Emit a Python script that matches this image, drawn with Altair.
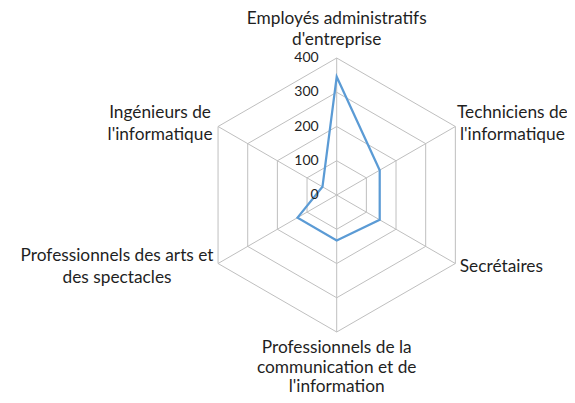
import altair as alt
import pandas as pd

# ---- data ----
categories = [
    "Employés administratifs\nd'entreprise",
    "Techniciens de\nl'informatique",
    "Secrétaires",
    "Professionnels de la\ncommunication et de\nl'information",
    "Professionnels des arts et\ndes spectacles",
    "Ingénieurs de\nl'informatique",
]
values = [345, 145, 145, 133, 132, 48]
ticks = [0, 100, 200, 300, 400]
r_max = 400

n = len(categories)
series_df = pd.DataFrame({"idx": list(range(n)), "category": categories, "value": values})
grid_df = pd.DataFrame([{"tick": t, "idx": i} for t in ticks for i in range(n)])
spoke_df = pd.DataFrame({"idx": list(range(n)), "category": categories})
tick_df = pd.DataFrame({"tick": ticks, "label": [str(t) for t in ticks]})

# ---- layout / style ----
W, H = 559, 387
k = 137 / r_max            # px per unit
cx, cy = 328.7, 187.0       # centre in plot coords
xdom = [-cx / k, (W - cx) / k]
ydom = [-(H - cy) / k, cy / k]
xs = alt.Scale(domain=xdom, nice=False, zero=False)
ys = alt.Scale(domain=ydom, nice=False, zero=False)
FONT = "Lato"
TXT = "#1f1f1f"
GRID = "#bfbfbf"
BLUE = "#5b9bd5"

ang = "datum.idx * PI / 3"

grid = alt.Chart(grid_df).transform_calculate(
    x=f"datum.tick * sin({ang})", y=f"datum.tick * cos({ang})"
).mark_line(interpolate="linear-closed", color=GRID, strokeWidth=1).encode(
    x=alt.X("x:Q", scale=xs, axis=None),
    y=alt.Y("y:Q", scale=ys, axis=None),
    detail="tick:N",
    order="idx:Q",
)

spokes = alt.Chart(spoke_df).transform_calculate(
    x0="0", y0="0",
    x=f"{r_max} * sin({ang})", y=f"{r_max} * cos({ang})"
).mark_rule(color=GRID, strokeWidth=1).encode(
    x=alt.X("x0:Q", scale=xs, axis=None),
    y=alt.Y("y0:Q", scale=ys, axis=None),
    x2="x:Q",
    y2="y:Q",
)

series = alt.Chart(series_df).transform_calculate(
    x=f"datum.value * sin({ang})", y=f"datum.value * cos({ang})"
).mark_line(interpolate="linear-closed", color=BLUE, strokeWidth=2.25).encode(
    x=alt.X("x:Q", scale=xs, axis=None),
    y=alt.Y("y:Q", scale=ys, axis=None),
    order="idx:Q",
)

tick_labels = alt.Chart(tick_df).transform_calculate(x0="0").mark_text(
    align="right", baseline="middle", dx=-18, font=FONT, fontSize=14, color=TXT
).encode(
    x=alt.X("x0:Q", scale=xs, axis=None),
    y=alt.Y("tick:Q", scale=ys, axis=None),
    text="label:N",
)

# label offsets (px) of the first line's centre from each outer vertex: (dx, dy, lineHeight)
offsets = [(0, -39, 21), (57, -13.5, 22), (46, 3.5, 22), (0, 16, 19.5), (-101, -7.5, 22), (-58, -13.5, 22)]
label_layers = []
for i, (ddx, ddy, lh) in enumerate(offsets):
    label_layers.append(
        alt.Chart(spoke_df).transform_filter(f"datum.idx == {i}").transform_calculate(
            x=f"{r_max} * sin({ang})", y=f"{r_max} * cos({ang})"
        ).mark_text(
            align="center", baseline="middle", dx=ddx, dy=ddy, lineBreak="\n",
            lineHeight=lh, font=FONT, fontSize=17.3, color=TXT
        ).encode(
            x=alt.X("x:Q", scale=xs, axis=None),
            y=alt.Y("y:Q", scale=ys, axis=None),
            text="category:N",
        )
    )

chart = alt.layer(grid, spokes, series, tick_labels, *label_layers).properties(
    width=W, height=H, autosize=alt.AutoSizeParams(type="none"), padding=0
).configure_view(stroke=None)

chart.save("out.html", embed_options={"renderer": "svg", "actions": False})
